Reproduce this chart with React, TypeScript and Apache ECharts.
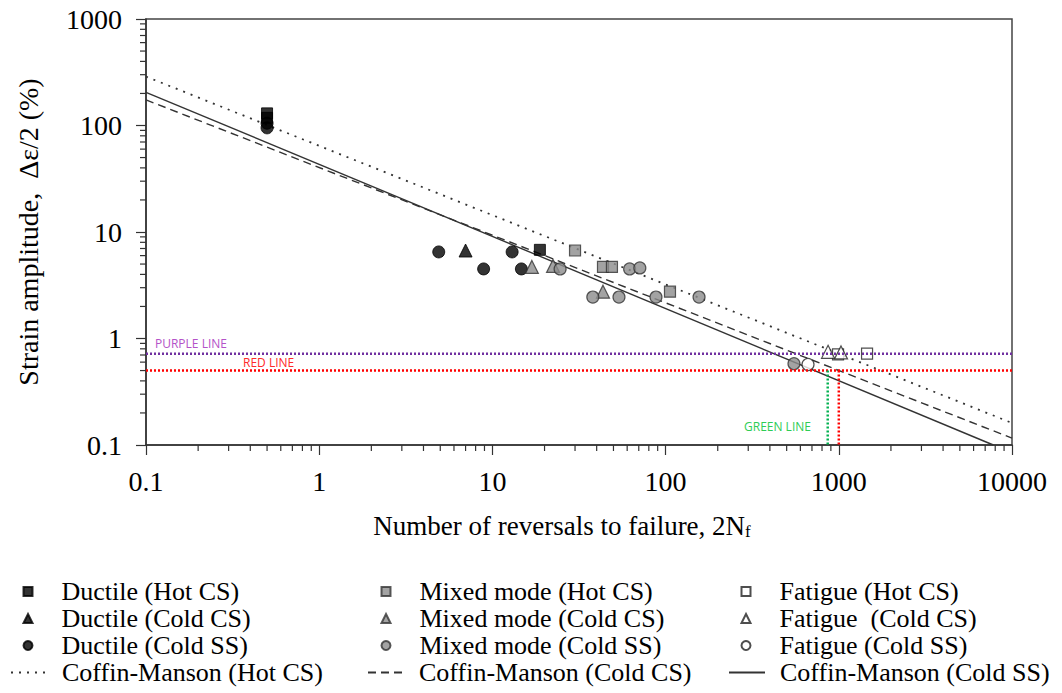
import React, { useEffect, useRef } from 'react';
import * as echarts from 'echarts';

// Tick values (decades) of the two log axes
const xTickValues = [0.1, 1, 10, 100, 1000, 10000];
const yTickValues = [0.1, 1, 10, 100, 1000];
const minorMultipliers = [2, 3, 4, 5, 6, 7, 8, 9];

// [2Nf, strain amplitude %]
const ductileHotCS = [[0.5, 130], [0.5, 118], [18.8, 6.8]];
const ductileColdCS = [[7, 6.7]];
const ductileColdSS = [[0.5, 105], [0.5, 95], [4.9, 6.5], [8.9, 4.5], [13, 6.5], [14.7, 4.5]];
const mixedHotCS = [[30, 6.7], [43.5, 4.7], [49, 4.7], [106, 2.75]];
const mixedColdCS = [[16.9, 4.7], [22.4, 4.8], [43.5, 2.75]];
const mixedColdSS = [[24.6, 4.5], [62, 4.5], [71, 4.6], [38, 2.45], [53.8, 2.45], [88, 2.45], [156, 2.45], [551, 0.58]];
const fatigueHotCS = [[990, 0.71], [1456, 0.72]];
const fatigueColdCS = [[867, 0.75], [1030, 0.74]];
const fatigueColdSS = [[664, 0.57]];

// Coffin-Manson fits (straight lines in log-log), endpoints
const cmHotCS = [[0.1, 288], [10000, 0.161]];
const cmColdCS = [[0.1, 174], [10000, 0.116]];
const cmColdSS = [[0.1, 205], [7800, 0.1]];

// Reference lines
const purpleLine = [[0.1, 0.72], [10000, 0.72]];
const redLine = [[0.1, 0.5], [10000, 0.5]];
const greenVLine = [[863, 0.5], [863, 0.1]];
const redVLine = [[1000, 0.5], [1000, 0.1]];

const markerCol1 = ['Ductile (Hot CS)', 'Ductile (Cold CS)', 'Ductile (Cold SS)'];
const markerCol2 = ['Mixed mode (Hot CS)', 'Mixed mode (Cold CS)', 'Mixed mode (Cold SS)'];
const markerCol3 = ['Fatigue (Hot CS)', 'Fatigue  (Cold CS)', 'Fatigue (Cold SS)'];
const lineNames = ['Coffin-Manson (Hot CS)', 'Coffin-Manson (Cold CS)', 'Coffin-Manson (Cold SS)'];

const SERIF = 'Liberation Serif';
const SANS = 'Open Sans';

function minorValues(majors: number[]) {
  const out: number[] = [];
  for (let i = 0; i < majors.length - 1; i++) {
    for (const m of minorMultipliers) out.push(parseFloat((majors[i] * m).toPrecision(6)));
  }
  return out;
}

export default function App() {
  const ref = useRef<HTMLDivElement>(null);
  useEffect(() => {
    document.body.style.margin = '0';
    const chart = echarts.init(ref.current!, undefined, { renderer: 'svg' });

    const black = { color: '#000', borderColor: '#000', borderWidth: 1 };
    const grey = { color: '#8c8c8c', borderColor: '#333', borderWidth: 1.2 };
    const open = { color: '#fff', borderColor: '#222', borderWidth: 1.2 };
    const scatter = (name: string, data: number[][], symbol: string, itemStyle: any, size = 12) => ({
      name, type: 'scatter', data, symbol, symbolSize: size, itemStyle, z: 5,
    });
    const cmLine = (name: string, data: number[][], type: any, width = 1.4) => ({
      name, type: 'line', data, symbol: 'none', showSymbol: false,
      itemStyle: { color: '#333' },
      lineStyle: { color: '#333', width, type }, z: 4, silent: true,
    });
    const refLine = (name: string, data: number[][], color: string) => ({
      name, type: 'line', data, symbol: 'none', showSymbol: false,
      itemStyle: { color },
      lineStyle: { color, width: 2.5, type: [2, 2] }, z: 6, silent: true,
    });

    const textStyle = { fontFamily: SERIF, fontSize: 26, color: '#000', lineHeight: 27 };
    const markerLegend = (left: number, data: string[]) => ({
      orient: 'vertical', top: 578, left, padding: 0, itemGap: 0,
      itemWidth: 9, itemHeight: 9, selectedMode: false,
      textStyle: { ...textStyle, padding: [0, 0, 0, 24] }, data,
    });
    const lineLegend = (left: number, name: string) => ({
      orient: 'vertical', top: 659, left, padding: 0, itemGap: 0,
      itemWidth: 36, itemHeight: 9, selectedMode: false,
      textStyle: { ...textStyle, padding: [0, 0, 0, 10] },
      data: [{ name, itemStyle: { opacity: 0, borderWidth: 0 } }],
    });

    const axisLabelStyle = { fontFamily: SERIF, fontSize: 28, color: '#000', fontWeight: 'normal' };

    const xMinor = minorValues(xTickValues).map((v) => [v, yTickValues[0]]);
    const yMinor = minorValues(yTickValues).map((v) => [xTickValues[0], v]);

    chart.setOption({
      animation: false,
      backgroundColor: '#fff',
      textStyle: { fontFamily: SERIF },
      grid: {
        left: 146, right: 50, top: 19, bottom: 248,
        show: true, borderColor: '#444', borderWidth: 1.5,
        containLabel: false, outerBoundsMode: 'none',
      },
      legend: [
        markerLegend(22.5, markerCol1),
        markerLegend(380.5, markerCol2),
        markerLegend(740.5, markerCol3),
        lineLegend(10, lineNames[0]),
        lineLegend(367, lineNames[1]),
        lineLegend(728, lineNames[2]),
      ],
      xAxis: {
        type: 'log', logBase: 10, min: xTickValues[0], max: xTickValues[xTickValues.length - 1],
        position: 'bottom',
        name: '{a|Number of reversals to failure, 2N}{s|f}',
        nameLocation: 'middle', nameGap: 66,
        nameTextStyle: {
          padding: [0, 34, 0, 0],
          rich: {
            a: { fontFamily: SERIF, fontSize: 27, color: '#000' },
            s: { fontFamily: SERIF, fontSize: 17, color: '#000', verticalAlign: 'bottom', padding: [12, 0, 0, 0] },
          },
        },
        axisLine: { lineStyle: { color: '#333', width: 1.5 } },
        axisTick: { show: true, inside: false, length: 10, lineStyle: { color: '#333', width: 1.2 } },
        axisLabel: { ...axisLabelStyle, margin: 22, formatter: (v: number) => String(v) },
        splitLine: { show: false },
      },
      yAxis: {
        type: 'log', logBase: 10, min: yTickValues[0], max: yTickValues[yTickValues.length - 1],
        position: 'left',
        name: 'Strain amplitude,  Δε/2 (%)',
        nameLocation: 'middle', nameGap: 104, nameRotate: 90,
        nameTextStyle: { fontFamily: SERIF, fontSize: 28, color: '#000' },
        axisLine: { lineStyle: { color: '#333', width: 1.5 } },
        axisTick: { show: true, inside: false, length: 10, lineStyle: { color: '#333', width: 1.2 } },
        axisLabel: { ...axisLabelStyle, margin: 24, formatter: (v: number) => String(v) },
        splitLine: { show: false },
      },
      series: [
        {
          name: 'x minor ticks', type: 'custom', data: xMinor, silent: true, clip: false, z: 3,
          renderItem: (_p: any, api: any) => {
            const c = api.coord([api.value(0), api.value(1)]);
            return { type: 'line', shape: { x1: c[0], y1: c[1], x2: c[0], y2: c[1] + 6 }, style: { stroke: '#333', lineWidth: 1.2 } };
          },
        },
        {
          name: 'y minor ticks', type: 'custom', data: yMinor, silent: true, clip: false, z: 3,
          renderItem: (_p: any, api: any) => {
            const c = api.coord([api.value(0), api.value(1)]);
            return { type: 'line', shape: { x1: c[0] - 6, y1: c[1], x2: c[0], y2: c[1] }, style: { stroke: '#333', lineWidth: 1.2 } };
          },
        },
        cmLine('Coffin-Manson (Hot CS)', cmHotCS, [2, 6], 1.8),
        cmLine('Coffin-Manson (Cold CS)', cmColdCS, [8, 5]),
        cmLine('Coffin-Manson (Cold SS)', cmColdSS, 'solid'),
        scatter('Ductile (Hot CS)', ductileHotCS, 'rect', black, 11),
        scatter('Ductile (Cold CS)', ductileColdCS, 'triangle', black, 13),
        scatter('Ductile (Cold SS)', ductileColdSS, 'circle', black, 12),
        scatter('Mixed mode (Hot CS)', mixedHotCS, 'rect', grey, 11),
        scatter('Mixed mode (Cold CS)', mixedColdCS, 'triangle', grey, 13),
        scatter('Mixed mode (Cold SS)', mixedColdSS, 'circle', grey, 12),
        scatter('Fatigue (Hot CS)', fatigueHotCS, 'rect', open, 11),
        scatter('Fatigue  (Cold CS)', fatigueColdCS, 'triangle', open, 13),
        scatter('Fatigue (Cold SS)', fatigueColdSS, 'circle', open, 12),
        refLine('purple reference', purpleLine, '#7030A0'),
        refLine('red reference', redLine, '#FF0000'),
        refLine('green vertical', greenVLine, '#00B050'),
        refLine('red vertical', redVLine, '#FF0000'),
      ],
      graphic: [
        { type: 'text', x: 155, y: 343, z: 10, style: { text: 'PURPLE LINE', fill: '#B452C8', font: `12px "${SANS}"`, verticalAlign: 'middle' } },
        { type: 'text', x: 243, y: 362, z: 10, style: { text: 'RED LINE', fill: '#FF2A2A', font: `12px "${SANS}"`, verticalAlign: 'middle' } },
        { type: 'text', x: 744, y: 426, z: 10, style: { text: 'GREEN LINE', fill: '#2ECC55', font: `12px "${SANS}"`, verticalAlign: 'middle' } },
      ],
    });
    return () => chart.dispose();
  }, []);
  return <div ref={ref} style={{ width: 1062, height: 693 }} />;
}
